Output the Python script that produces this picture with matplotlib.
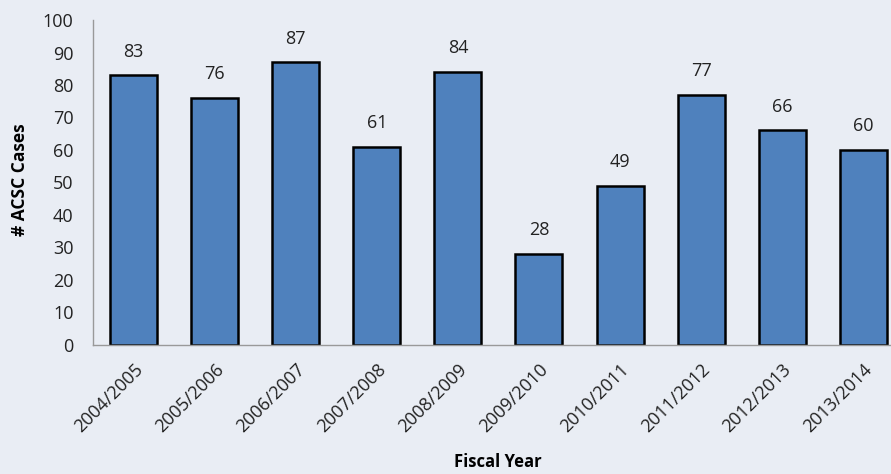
import matplotlib
matplotlib.use('Agg')
import matplotlib.pyplot as plt
import numpy as np

years = ['2004/2005', '2005/2006', '2006/2007', '2007/2008', '2008/2009',
         '2009/2010', '2010/2011', '2011/2012', '2012/2013', '2013/2014']
cases = [83, 76, 87, 61, 84, 28, 49, 77, 66, 60]
yticks = [0, 10, 20, 30, 40, 50, 60, 70, 80, 90, 100]

plt.rcParams['font.family'] = ['Open Sans', 'DejaVu Sans']
bg = '#e9edf4'

fig = plt.figure(figsize=(8.91, 4.74), dpi=100, facecolor=bg)
# plot area runs a bit past the right edge, as in the original
ax = fig.add_axes([0.1044, 0.2722, 0.910, 0.6856])
ax.set_facecolor(bg)

x = np.arange(len(years))
ax.bar(x, cases, width=0.58, color='#4f81bd', edgecolor='black', linewidth=1.8)
for xi, v in zip(x, cases):
    ax.text(xi, v + 4.5, str(v), ha='center', va='bottom', fontsize=13, color='#222222')

ax.set_xlim(-0.5, len(years) - 0.5)
ax.set_ylim(0, 100)
ax.set_yticks(yticks)
ax.set_xticks(x)
ax.set_xticklabels(years, rotation=45, ha='right', rotation_mode='anchor', fontsize=13)
ax.tick_params(axis='both', length=0, labelsize=13, colors='#222222')
ax.tick_params(axis='y', pad=14)
ax.tick_params(axis='x', pad=11)
for s in ['top', 'right']:
    ax.spines[s].set_visible(False)
for s in ['left', 'bottom']:
    ax.spines[s].set_color('#999999')
    ax.spines[s].set_linewidth(1)

fig.text(20 / 891, 0.62, '# ACSC Cases', rotation=90, ha='center', va='center',
         fontsize=12.5, fontweight='bold')
fig.text(498 / 891, 3 / 474, 'Fiscal Year', ha='center', va='bottom',
         fontsize=12, fontweight='bold')

fig.savefig('out.png', dpi=100, facecolor=bg)
